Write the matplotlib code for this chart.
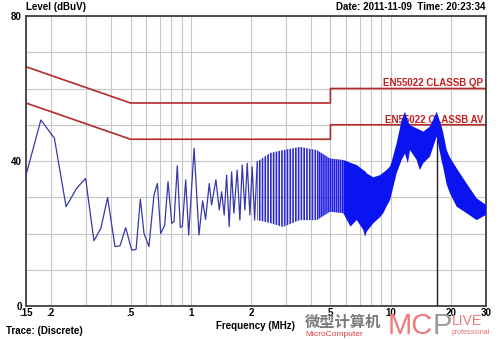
import numpy as np
import matplotlib
matplotlib.use('Agg')
import matplotlib.pyplot as plt

plt.rcParams['font.family'] = ['Liberation Sans', 'Noto Sans CJK SC', 'DejaVu Sans']
plt.rcParams['hatch.linewidth'] = 1.2

# measured trace, low band (MHz, dBuV)
f_low = [0.15, 0.178, 0.208, 0.238, 0.269, 0.298, 0.328, 0.355, 0.384, 0.418,
         0.443, 0.473, 0.507, 0.533, 0.56, 0.584, 0.618, 0.655, 0.681, 0.708,
         0.741, 0.77, 0.804, 0.825, 0.857, 0.887, 0.908, 0.944, 0.977, 1.04,
         1.10, 1.147, 1.187, 1.238, 1.272, 1.337, 1.389, 1.428, 1.471, 1.512,
         1.558, 1.602, 1.644, 1.708, 1.762, 1.810, 1.867, 1.917, 1.977, 2.03,
         2.088, 2.151]
lvl_low = [36.1, 51.3, 46.3, 27.4, 32.5, 35.2, 18.0, 21.4, 29.9, 16.4,
           16.6, 21.6, 15.4, 15.6, 29.5, 20.0, 16.4, 30.6, 33.8, 20.0,
           22.3, 34.3, 22.8, 23.3, 38.7, 21.7, 21.9, 34.8, 19.6, 43.5,
           19.6, 29.0, 23.9, 33.8, 27.9, 34.8, 26.5, 31.5, 25.1, 36.1,
           21.9, 37.0, 25.6, 37.5, 23.7, 38.9, 26.5, 39.4, 25.1, 38.4,
           23.7, 39.8]

# dense harmonics above 2 MHz: upper / lower envelope
env_f = np.array([2.15, 2.49, 2.89, 3.52, 4.28, 4.97, 5.80, 6.30, 6.77, 7.30,
                  7.45, 7.59, 8.19, 8.85, 9.19, 9.55, 9.93, 10.12, 10.72, 11.36,
                  11.80, 12.20, 12.50, 13.50, 14.00, 14.57, 15.73, 17.0, 18.0, 18.3,
                  19.08, 19.8, 21.4, 24.0, 26.95, 30.0])
env_hi = np.array([39.8, 42.2, 43.0, 43.9, 43.0, 40.7, 40.3, 39.5, 38.9, 37.5,
                   37.2, 36.6, 35.5, 36.1, 36.8, 37.5, 38.5, 39.8, 44.9, 51.3,
                   53.6, 51.0, 49.9, 49.0, 48.6, 48.1, 49.5, 53.6, 49.5, 48.0,
                   43.0, 41.0, 38.0, 33.8, 29.7, 27.9])
env_lo = np.array([23.7, 22.9, 21.8, 23.7, 23.7, 26.0, 25.6, 21.9, 23.7, 21.0,
                   19.1, 20.5, 22.8, 24.5, 25.6, 27.5, 29.2, 31.0, 36.6, 40.3,
                   42.0, 39.4, 43.0, 40.3, 37.5, 39.4, 41.2, 46.7, 40.0, 38.4,
                   33.5, 31.1, 27.4, 25.6, 23.7, 25.1])

# EN55022 class B limits
lim_f = [0.15, 0.5, 5, 5, 30]
lim_qp = [66, 56, 56, 60, 60]
lim_av = [56, 46, 46, 50, 50]

marker_f = 17.0
marker_lvl = 46

xticks = [0.15, 0.2, 0.5, 1, 2, 5, 10, 20, 30]
xlabels = ['.15', '.2', '.5', '1', '2', '5', '10', '20', '30']
xgrid = [0.2, 0.3, 0.4, 0.5, 0.6, 0.7, 0.8, 0.9, 1, 2, 3, 4, 5, 6, 7, 8, 9, 10, 20, 30]

fig = plt.figure(figsize=(5, 3.39), dpi=100)
ax = fig.add_axes([0.052, 0.0973, 0.92, 0.8555])
ax.set_xscale('log')
ax.set_xlim(0.15, 30)
ax.set_ylim(0, 80)

ax.set_xticks(xgrid, minor=True)
ax.set_xticks(xticks)
ax.set_xticklabels(xlabels, fontsize=7, fontweight='bold')
ax.set_yticks(range(0, 81, 10))
ax.set_yticklabels(['0', '', '', '', '40', '', '', '', '80'], fontsize=7, fontweight='bold')
ax.tick_params(which='both', length=0, pad=3)
ax.tick_params(axis='x', pad=1.5)
ax.grid(True, which='both', color='#c8c8c8', lw=0.8)
ax.set_axisbelow(True)
for s in ax.spines.values():
    s.set_color('#404040')
    s.set_linewidth(1.3)

red = '#b52a2a'
ax.plot(lim_f, lim_qp, color=red, lw=1.2, zorder=2)
ax.plot(lim_f, lim_av, color=red, lw=1.2, zorder=2)
ax.text(29, 61.5, 'EN55022 CLASSB QP', color='#c41e1e', fontsize=7, fontweight='bold',
        ha='right', va='center', zorder=2)
ax.text(29, 51.3, 'EN55022 CLASSB AV', color='#c41e1e', fontsize=7, fontweight='bold',
        ha='right', va='center', zorder=2)

ax.plot(f_low, lvl_low, color='#3838a8', lw=0.9, zorder=3)

m1 = env_f <= 4.28
m2 = (env_f >= 4.28) & (env_f <= 5.80)
m3 = env_f >= 5.80
ax.fill_between(env_f[m1], env_lo[m1], env_hi[m1], facecolor='none',
                edgecolor='#2a2ac8', hatch='||||||', linewidth=0, zorder=3)
ax.fill_between(env_f[m2], env_lo[m2], env_hi[m2], facecolor='none',
                edgecolor='#1e1ee0', hatch='||||||||', linewidth=0, zorder=3)
ax.fill_between(env_f[m3], env_lo[m3], env_hi[m3], facecolor='#0a14f0',
                linewidth=0, zorder=3)

ax.vlines(marker_f, 0, marker_lvl, color='#202020', lw=1.0, zorder=4)

fig.text(26 / 500, 1 - 7 / 339, 'Level (dBuV)', fontsize=7, fontweight='bold', va='center')
fig.text(485 / 500, 1 - 7 / 339, 'Date: 2011-11-09  Time: 20:23:34', fontsize=7,
         fontweight='bold', ha='right', va='center')
fig.text(255 / 500, 1 - 326 / 339, 'Frequency (MHz)', fontsize=7, fontweight='bold',
         ha='center', va='center')
fig.text(6 / 500, 1 - 331 / 339, 'Trace: (Discrete)', fontsize=7, fontweight='bold',
         va='center')

# watermark
fig.text(305 / 500, 1 - 322 / 339, '微型计算机', fontsize=11, fontweight='bold',
         color='#7a7a7a', va='center', family=['Noto Sans CJK SC', 'DejaVu Sans'])
fig.text(305 / 500, 1 - 334 / 339, 'MicroComputer', fontsize=6, color='#e04040', va='center')
fig.text(388 / 500, 1 - 326 / 339, 'MC', fontsize=21, color='#f07a7a', va='center')
fig.text(433 / 500, 1 - 326 / 339, 'P', fontsize=21, color='#9a9a9a', va='center')
fig.text(452 / 500, 1 - 321 / 339, 'LIVE', fontsize=10, color='#f07a7a', va='center')
fig.text(452 / 500, 1 - 333 / 339, 'professional', fontsize=5, color='#e07070', va='center')

fig.savefig('out.png', dpi=100)
